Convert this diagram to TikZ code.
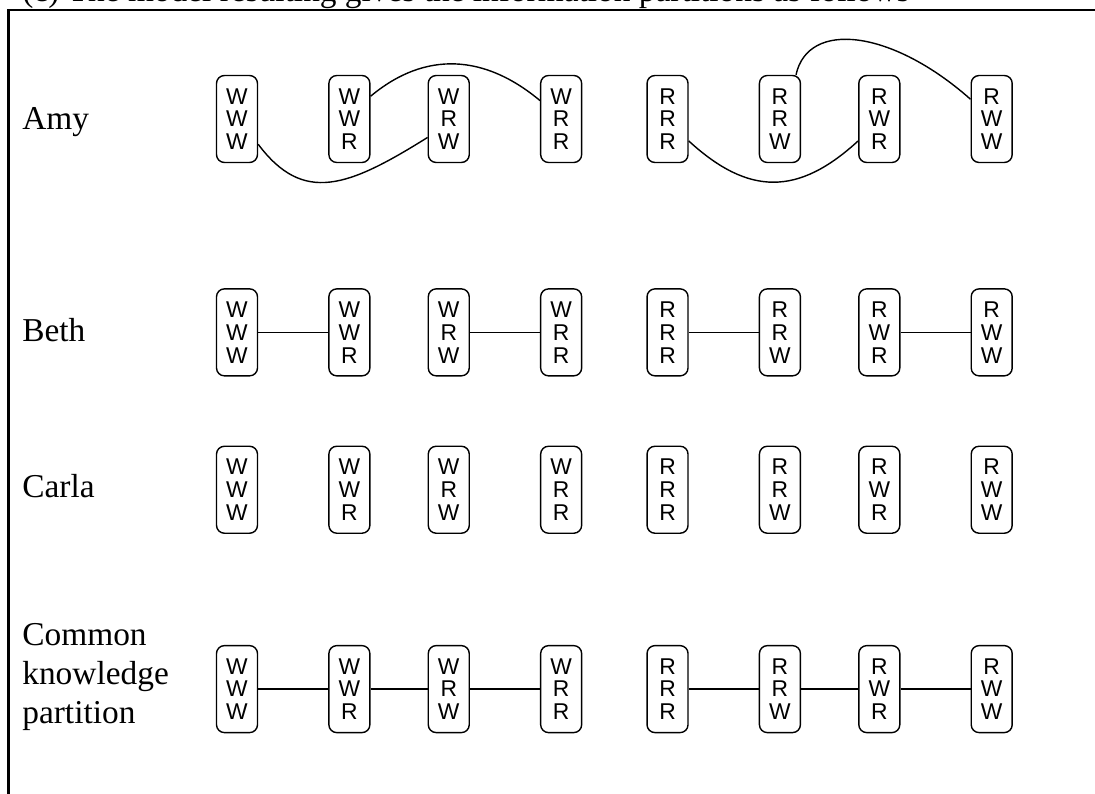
\documentclass[tikz,border=0pt]{standalone}
\usepackage{fontspec}
\setmainfont{Liberation Serif}
\setsansfont{Liberation Sans}
\usetikzlibrary{positioning}

\begin{document}
\begin{tikzpicture}[
    x=0.02cm, y=-0.02cm,
    world/.style={
        rectangle, draw, line width=0.8pt, rounded corners=4.5pt,
        align=center, inner sep=0pt,
        minimum width=0.82cm, minimum height=1.74cm,
        font=\sffamily\fontsize{13}{13}\selectfont
    },
    who/.style={
        anchor=base west, align=left, inner sep=0pt,
        font=\fontsize{19}{22}\selectfont
    },
    link/.style={line width=0.8pt},
    pageline/.style={line width=1.7pt},
]
\useasboundingbox (0,0) rectangle (1095,794);

%% Frame and cut-off caption
\node[who] (cap) at (22,2) {(c) The model resulting gives the information partitions as follows};
\draw[pageline] (1100,10) -- (8.5,10) -- (8.5,800);

%% Row 1: Amy
\node[world] (a1) at (237,119) {W\\W\\W};
\node[world, right=1.4cm of a1]  (a2) {W\\W\\R};
\node[world, right=1.14cm of a2] (a3) {W\\R\\W};
\node[world, right=1.4cm of a3]  (a4) {W\\R\\R};
\node[world, right=1.28cm of a4] (a5) {R\\R\\R};
\node[world, right=1.4cm of a5]  (a6) {R\\R\\W};
\node[world, right=1.14cm of a6] (a7) {R\\W\\R};
\node[world, right=1.4cm of a7]  (a8) {R\\W\\W};

%% Row 2: Beth
\node[world, below=2.5cm of a1]  (b1) {W\\W\\W};
\node[world, right=1.4cm of b1]  (b2) {W\\W\\R};
\node[world, right=1.14cm of b2] (b3) {W\\R\\W};
\node[world, right=1.4cm of b3]  (b4) {W\\R\\R};
\node[world, right=1.28cm of b4] (b5) {R\\R\\R};
\node[world, right=1.4cm of b5]  (b6) {R\\R\\W};
\node[world, right=1.14cm of b6] (b7) {R\\W\\R};
\node[world, right=1.4cm of b7]  (b8) {R\\W\\W};

%% Row 3: Carla
\node[world, below=1.38cm of b1] (c1) {W\\W\\W};
\node[world, right=1.4cm of c1]  (c2) {W\\W\\R};
\node[world, right=1.14cm of c2] (c3) {W\\R\\W};
\node[world, right=1.4cm of c3]  (c4) {W\\R\\R};
\node[world, right=1.28cm of c4] (c5) {R\\R\\R};
\node[world, right=1.4cm of c5]  (c6) {R\\R\\W};
\node[world, right=1.14cm of c6] (c7) {R\\W\\R};
\node[world, right=1.4cm of c7]  (c8) {R\\W\\W};

%% Row 4: common knowledge
\node[world, below=2.22cm of c1] (k1) {W\\W\\W};
\node[world, right=1.4cm of k1]  (k2) {W\\W\\R};
\node[world, right=1.14cm of k2] (k3) {W\\R\\W};
\node[world, right=1.4cm of k3]  (k4) {W\\R\\R};
\node[world, right=1.28cm of k4] (k5) {R\\R\\R};
\node[world, right=1.4cm of k5]  (k6) {R\\R\\W};
\node[world, right=1.14cm of k6] (k7) {R\\W\\R};
\node[world, right=1.4cm of k7]  (k8) {R\\W\\W};

%% Row labels
\node[who] (amy)   at (22,129.5) {Amy};
\node[who] (beth)  at (22,341.5) {Beth};
\node[who] (carla) at (22,497.5) {Carla};
\node[who] (ck)    at (22,723)   {Common\\knowledge\\partition};

%% Amy's links
\draw[link] (a1.-50) .. controls +(45,60) and +(-80,50) .. (a3.-139);
\draw[link] (a2.47) .. controls +(55,-46) and +(-55,-46) .. (a4.139);
\draw[link] (a5.-46) .. controls +(60,55) and +(-60,55) .. (a7.-134);
\draw[link] (a6.70) .. controls +(12,-55) and +(-79,-70) .. (a8.137);

%% Beth's links
\draw[link] (b1) -- (b2);
\draw[link] (b3) -- (b4);
\draw[link] (b5) -- (b6);
\draw[link] (b7) -- (b8);

%% Common knowledge links
\draw[link] (k1) -- (k2);
\draw[link] (k2) -- (k3);
\draw[link] (k3) -- (k4);
\draw[link] (k5) -- (k6);
\draw[link] (k6) -- (k7);
\draw[link] (k7) -- (k8);

\end{tikzpicture}
\end{document}
